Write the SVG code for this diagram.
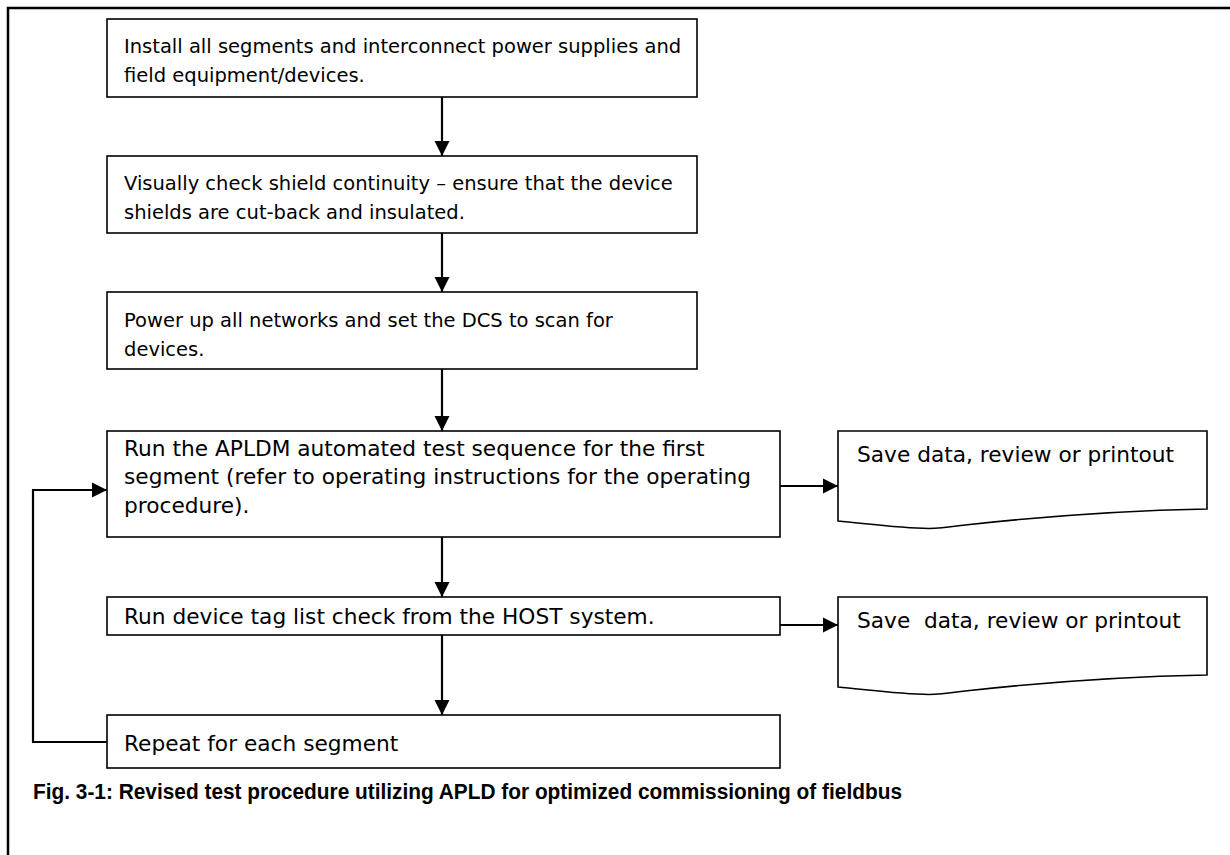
<svg xmlns="http://www.w3.org/2000/svg" width="1230" height="855" viewBox="0 0 1230 855">
<style>
.box{fill:#fff;stroke:#000;stroke-width:1.6}
.doc{fill:#fff;stroke:#000;stroke-width:1.6}
.t{font-family:"DejaVu Sans","Liberation Sans",sans-serif;font-size:19.5px;fill:#000}
.t2{font-family:"DejaVu Sans","Liberation Sans",sans-serif;font-size:21.7px;fill:#000}
.c{stroke:#000;stroke-width:2.2;fill:none}
.cap{font-family:"Liberation Sans Narrow","Liberation Sans",sans-serif;font-size:22px;font-weight:bold;fill:#000}
</style>
<defs>
<marker id="ah" viewBox="0 0 10 10" refX="10" refY="5" markerWidth="7" markerHeight="7" markerUnits="strokeWidth" orient="auto">
<path d="M0,0 L10,5 L0,10 Z" fill="#000"/>
</marker>
</defs>
<rect x="0" y="0" width="1230" height="855" fill="#fff"/>
<path d="M1230,8 H8 V855" fill="none" stroke="#000" stroke-width="2.5"/>
<g id="n1">
<rect class="box" x="107" y="19" width="590" height="78"/>
<text class="t" x="124" y="53">Install all segments and interconnect power supplies and</text>
<text class="t" x="124" y="82">field equipment/devices.</text>
</g>
<g id="n2">
<rect class="box" x="107" y="156" width="590" height="77"/>
<text class="t" x="124" y="190">Visually check shield continuity – ensure that the device</text>
<text class="t" x="124" y="219">shields are cut-back and insulated.</text>
</g>
<g id="n3">
<rect class="box" x="107" y="292" width="590" height="77"/>
<text class="t" x="124" y="327">Power up all networks and set the DCS to scan for</text>
<text class="t" x="124" y="356">devices.</text>
</g>
<g id="n4">
<rect class="box" x="107" y="431" width="673" height="106"/>
<text class="t2" x="124" y="456">Run the APLDM automated test sequence for the first</text>
<text class="t2" x="124" y="484">segment (refer to operating instructions for the operating</text>
<text class="t2" x="124" y="513">procedure).</text>
</g>
<g id="n5">
<rect class="box" x="107" y="597" width="673" height="38"/>
<text class="t2" x="124" y="624">Run device tag list check from the HOST system.</text>
</g>
<g id="n6">
<rect class="box" x="107" y="715" width="673" height="53"/>
<text class="t2" x="124" y="751">Repeat for each segment</text>
</g>
<g id="d1">
<path class="doc" d="M838,431 H1207 V509 C1100,511 1010,520 965,525 C950,527 940,528.5 929,528.5 C900,528 870,524 838,521 Z"/>
<text class="t2" x="857" y="462">Save data, review or printout</text>
</g>
<g id="d2">
<path class="doc" d="M838,597 H1207 V675 C1100,677 1010,686 965,691 C950,693 940,694.5 929,694.5 C900,694 870,690 838,687 Z"/>
<text class="t2" x="857" y="628" xml:space="preserve">Save  data, review or printout</text>
</g>
<g id="connectors">
<line class="c" x1="442" y1="97" x2="442" y2="156" marker-end="url(#ah)"/>
<line class="c" x1="442" y1="233" x2="442" y2="292" marker-end="url(#ah)"/>
<line class="c" x1="442" y1="369" x2="442" y2="431" marker-end="url(#ah)"/>
<line class="c" x1="442" y1="537" x2="442" y2="597" marker-end="url(#ah)"/>
<line class="c" x1="442" y1="635" x2="442" y2="715" marker-end="url(#ah)"/>
<line class="c" x1="780" y1="486" x2="838" y2="486" marker-end="url(#ah)"/>
<line class="c" x1="780" y1="625" x2="838" y2="625" marker-end="url(#ah)"/>
<polyline class="c" points="107,742 33,742 33,490 107,490" marker-end="url(#ah)"/>
</g>
<text class="cap" x="33" y="799" textLength="869" lengthAdjust="spacingAndGlyphs">Fig. 3-1: Revised test procedure utilizing APLD for optimized commissioning of fieldbus</text>
</svg>
